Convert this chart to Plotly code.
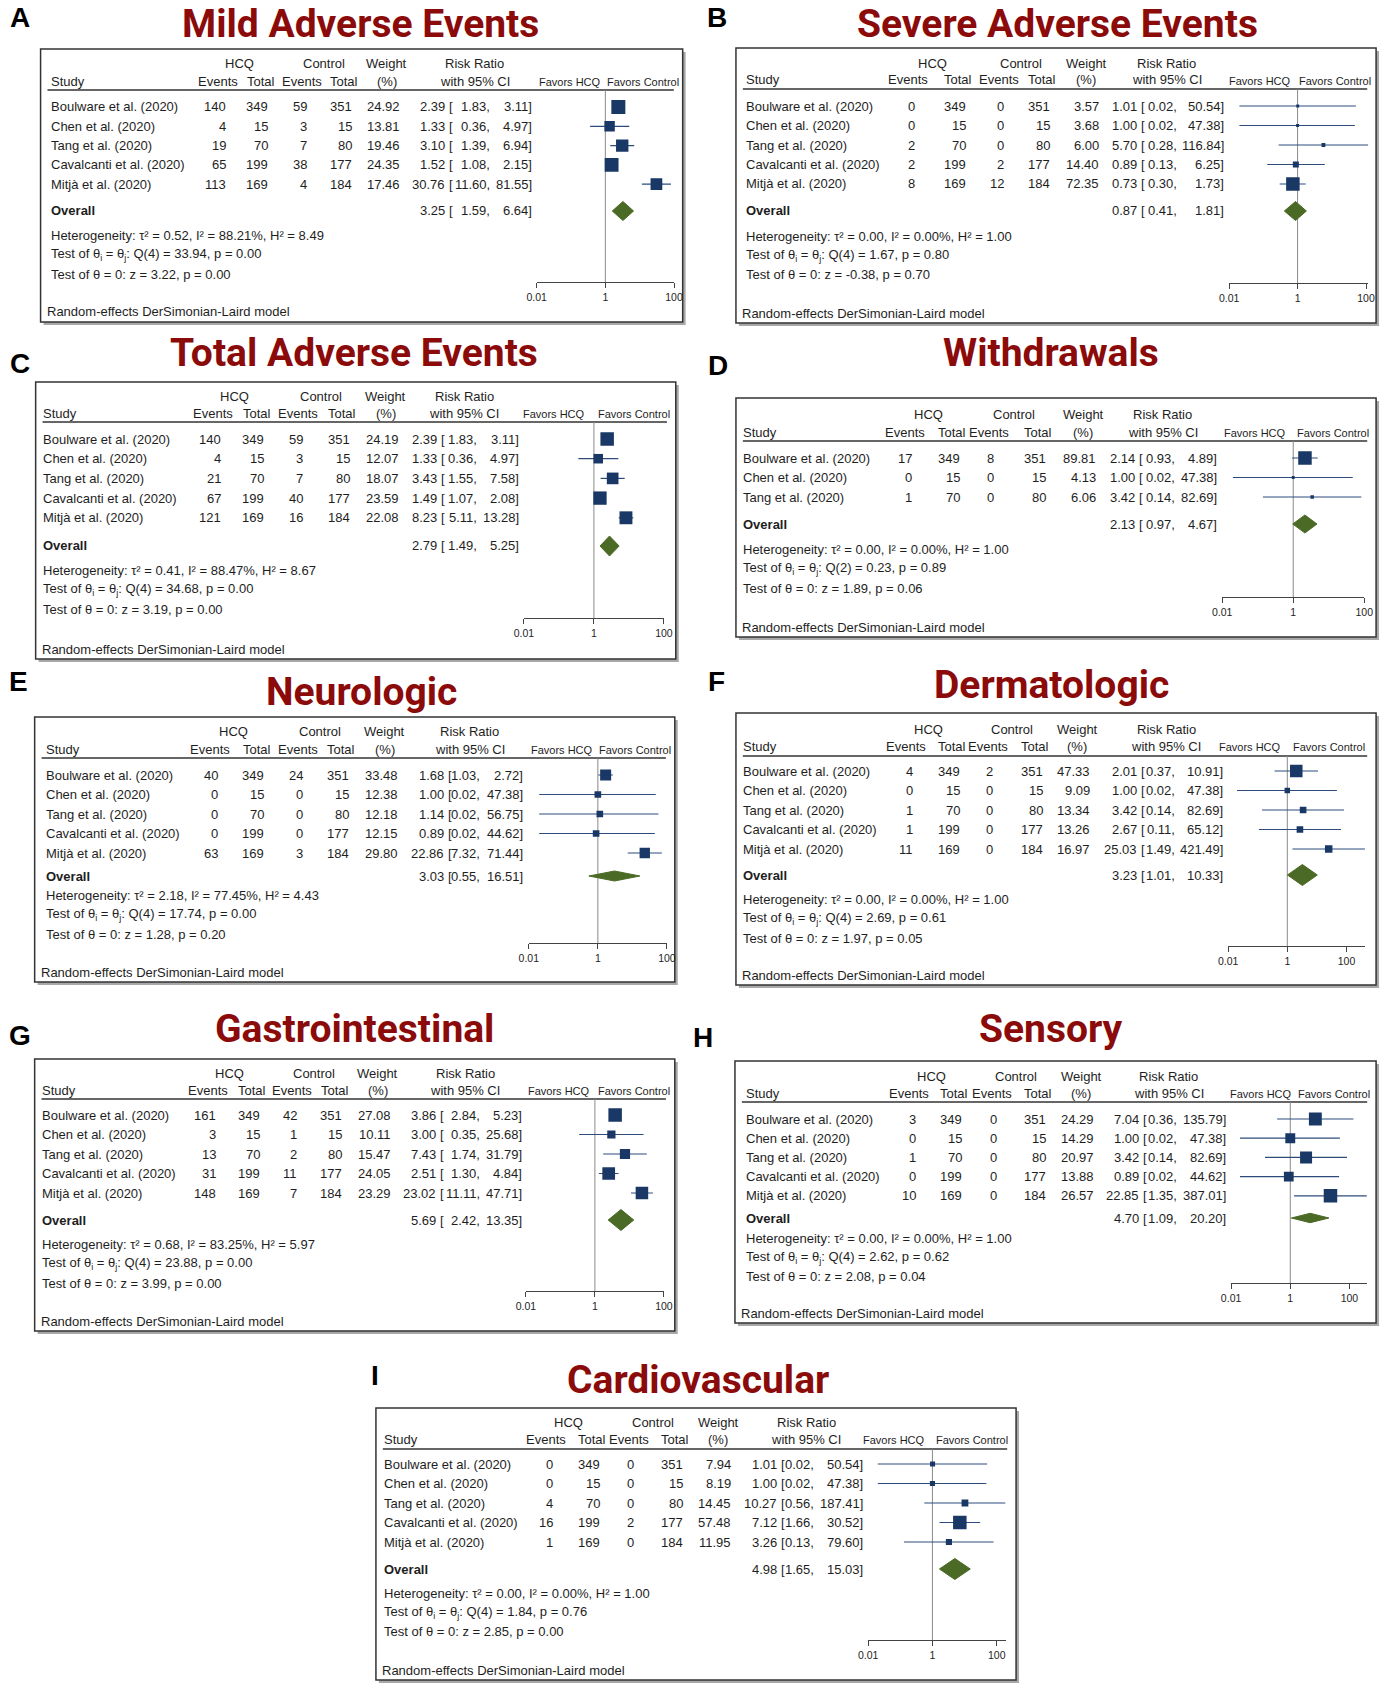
import math
import plotly.graph_objects as go

W, H = 1391, 1686
FONT = "Liberation Sans"
TFONT = "Roboto"

studies5 = ["Boulware et al. (2020)", "Chen et al. (2020)", "Tang et al. (2020)",
            "Cavalcanti et al. (2020)", "Mitjà et al. (2020)"]
studies3 = studies5[:3]

# ---------------- data ----------------
# A Mild adverse events
mild_hcq_ev = [140, 4, 19, 65, 113]
mild_hcq_n = [349, 15, 70, 199, 169]
mild_ctl_ev = [59, 3, 7, 38, 4]
mild_ctl_n = [351, 15, 80, 177, 184]
mild_wt = [24.92, 13.81, 19.46, 24.35, 17.46]
mild_rr = [2.39, 1.33, 3.10, 1.52, 30.76]
mild_lo = [1.83, 0.36, 1.39, 1.08, 11.60]
mild_hi = [3.11, 4.97, 6.94, 2.15, 81.55]
mild_overall = [3.25, 1.59, 6.64]
mild_stats = [0.52, 88.21, 8.49, 33.94, 0.00, 3.22, 0.00]

# B Severe adverse events
sev_hcq_ev = [0, 0, 2, 2, 8]
sev_hcq_n = [349, 15, 70, 199, 169]
sev_ctl_ev = [0, 0, 0, 2, 12]
sev_ctl_n = [351, 15, 80, 177, 184]
sev_wt = [3.57, 3.68, 6.00, 14.40, 72.35]
sev_rr = [1.01, 1.00, 5.70, 0.89, 0.73]
sev_lo = [0.02, 0.02, 0.28, 0.13, 0.30]
sev_hi = [50.54, 47.38, 116.84, 6.25, 1.73]
sev_overall = [0.87, 0.41, 1.81]
sev_stats = [0.00, 0.00, 1.00, 1.67, 0.80, -0.38, 0.70]

# C Total adverse events
tot_hcq_ev = [140, 4, 21, 67, 121]
tot_hcq_n = [349, 15, 70, 199, 169]
tot_ctl_ev = [59, 3, 7, 40, 16]
tot_ctl_n = [351, 15, 80, 177, 184]
tot_wt = [24.19, 12.07, 18.07, 23.59, 22.08]
tot_rr = [2.39, 1.33, 3.43, 1.49, 8.23]
tot_lo = [1.83, 0.36, 1.55, 1.07, 5.11]
tot_hi = [3.11, 4.97, 7.58, 2.08, 13.28]
tot_overall = [2.79, 1.49, 5.25]
tot_stats = [0.41, 88.47, 8.67, 34.68, 0.00, 3.19, 0.00]

# D Withdrawals
wd_hcq_ev = [17, 0, 1]
wd_hcq_n = [349, 15, 70]
wd_ctl_ev = [8, 0, 0]
wd_ctl_n = [351, 15, 80]
wd_wt = [89.81, 4.13, 6.06]
wd_rr = [2.14, 1.00, 3.42]
wd_lo = [0.93, 0.02, 0.14]
wd_hi = [4.89, 47.38, 82.69]
wd_overall = [2.13, 0.97, 4.67]
wd_stats = [0.00, 0.00, 1.00, 0.23, 0.89, 1.89, 0.06]

# E Neurologic
neu_hcq_ev = [40, 0, 0, 0, 63]
neu_hcq_n = [349, 15, 70, 199, 169]
neu_ctl_ev = [24, 0, 0, 0, 3]
neu_ctl_n = [351, 15, 80, 177, 184]
neu_wt = [33.48, 12.38, 12.18, 12.15, 29.80]
neu_rr = [1.68, 1.00, 1.14, 0.89, 22.86]
neu_lo = [1.03, 0.02, 0.02, 0.02, 7.32]
neu_hi = [2.72, 47.38, 56.75, 44.62, 71.44]
neu_overall = [3.03, 0.55, 16.51]
neu_stats = [2.18, 77.45, 4.43, 17.74, 0.00, 1.28, 0.20]

# F Dermatologic
der_hcq_ev = [4, 0, 1, 1, 11]
der_hcq_n = [349, 15, 70, 199, 169]
der_ctl_ev = [2, 0, 0, 0, 0]
der_ctl_n = [351, 15, 80, 177, 184]
der_wt = [47.33, 9.09, 13.34, 13.26, 16.97]
der_rr = [2.01, 1.00, 3.42, 2.67, 25.03]
der_lo = [0.37, 0.02, 0.14, 0.11, 1.49]
der_hi = [10.91, 47.38, 82.69, 65.12, 421.49]
der_overall = [3.23, 1.01, 10.33]
der_stats = [0.00, 0.00, 1.00, 2.69, 0.61, 1.97, 0.05]

# G Gastrointestinal
gi_hcq_ev = [161, 3, 13, 31, 148]
gi_hcq_n = [349, 15, 70, 199, 169]
gi_ctl_ev = [42, 1, 2, 11, 7]
gi_ctl_n = [351, 15, 80, 177, 184]
gi_wt = [27.08, 10.11, 15.47, 24.05, 23.29]
gi_rr = [3.86, 3.00, 7.43, 2.51, 23.02]
gi_lo = [2.84, 0.35, 1.74, 1.30, 11.11]
gi_hi = [5.23, 25.68, 31.79, 4.84, 47.71]
gi_overall = [5.69, 2.42, 13.35]
gi_stats = [0.68, 83.25, 5.97, 23.88, 0.00, 3.99, 0.00]

# H Sensory
sen_hcq_ev = [3, 0, 1, 0, 10]
sen_hcq_n = [349, 15, 70, 199, 169]
sen_ctl_ev = [0, 0, 0, 0, 0]
sen_ctl_n = [351, 15, 80, 177, 184]
sen_wt = [24.29, 14.29, 20.97, 13.88, 26.57]
sen_rr = [7.04, 1.00, 3.42, 0.89, 22.85]
sen_lo = [0.36, 0.02, 0.14, 0.02, 1.35]
sen_hi = [135.79, 47.38, 82.69, 44.62, 387.01]
sen_overall = [4.70, 1.09, 20.20]
sen_stats = [0.00, 0.00, 1.00, 2.62, 0.62, 2.08, 0.04]

# I Cardiovascular
cv_hcq_ev = [0, 0, 4, 16, 1]
cv_hcq_n = [349, 15, 70, 199, 169]
cv_ctl_ev = [0, 0, 0, 2, 0]
cv_ctl_n = [351, 15, 80, 177, 184]
cv_wt = [7.94, 8.19, 14.45, 57.48, 11.95]
cv_rr = [1.01, 1.00, 10.27, 7.12, 3.26]
cv_lo = [0.02, 0.02, 0.56, 1.66, 0.13]
cv_hi = [50.54, 47.38, 187.41, 30.52, 79.60]
cv_overall = [4.98, 1.65, 15.03]
cv_stats = [0.00, 0.00, 1.00, 1.84, 0.76, 2.85, 0.00]

titles = ["Mild Adverse Events", "Severe Adverse Events", "Total Adverse Events", "Withdrawals",
          "Neurologic", "Dermatologic", "Gastrointestinal", "Sensory", "Cardiovascular"]
letters = ["A", "B", "C", "D", "E", "F", "G", "H", "I"]

datasets = [
    (studies5, mild_hcq_ev, mild_hcq_n, mild_ctl_ev, mild_ctl_n, mild_wt, mild_rr, mild_lo, mild_hi, mild_overall, mild_stats),
    (studies5, sev_hcq_ev, sev_hcq_n, sev_ctl_ev, sev_ctl_n, sev_wt, sev_rr, sev_lo, sev_hi, sev_overall, sev_stats),
    (studies5, tot_hcq_ev, tot_hcq_n, tot_ctl_ev, tot_ctl_n, tot_wt, tot_rr, tot_lo, tot_hi, tot_overall, tot_stats),
    (studies3, wd_hcq_ev, wd_hcq_n, wd_ctl_ev, wd_ctl_n, wd_wt, wd_rr, wd_lo, wd_hi, wd_overall, wd_stats),
    (studies5, neu_hcq_ev, neu_hcq_n, neu_ctl_ev, neu_ctl_n, neu_wt, neu_rr, neu_lo, neu_hi, neu_overall, neu_stats),
    (studies5, der_hcq_ev, der_hcq_n, der_ctl_ev, der_ctl_n, der_wt, der_rr, der_lo, der_hi, der_overall, der_stats),
    (studies5, gi_hcq_ev, gi_hcq_n, gi_ctl_ev, gi_ctl_n, gi_wt, gi_rr, gi_lo, gi_hi, gi_overall, gi_stats),
    (studies5, sen_hcq_ev, sen_hcq_n, sen_ctl_ev, sen_ctl_n, sen_wt, sen_rr, sen_lo, sen_hi, sen_overall, sen_stats),
    (studies5, cv_hcq_ev, cv_hcq_n, cv_ctl_ev, cv_ctl_n, cv_wt, cv_rr, cv_lo, cv_hi, cv_overall, cv_stats),
]

# ---------------- layout (pixel positions) ----------------
layouts = [
    dict(box=(31, 49, 682, 322), letter=(10, 17), title=(355, 20), hcq=64, study=81, line=90, row0=107, sp=19.3,
         overall=211, het=235, tsp=19.5, axis=282, rand=312,
         cols=(41, 220, 263, 302, 348, 396, 442, 488, 530, 568, 642), ax0=534, dec=34.8, sq=14, dh=9.5),
    dict(box=(736, 48, 1385, 323), letter=(717, 17), title=(1062, 20), hcq=63, study=80, line=89, row0=106, sp=19.5,
         overall=211, het=236, tsp=19.5, axis=283, rand=313,
         cols=(745, 919, 970, 1009, 1055, 1105, 1144, 1184, 1232, 1267, 1343), ax0=1236, dec=34.7, sq=13.5, dh=9.5),
    dict(box=(26, 382, 675, 659), letter=(10, 363), title=(349, 349), hcq=396, study=413, line=422, row0=439, sp=19.7,
         overall=546, het=570, tsp=19.5, axis=618, rand=649,
         cols=(32, 215, 259, 298, 346, 395, 434, 474, 517, 552, 633), ax0=521, dec=35.5, sq=13.5, dh=10),
    dict(box=(736, 398, 1385, 637), letter=(718, 365), title=(1055, 349), hcq=414, study=432, line=441, row0=458, sp=19.5,
         overall=524, het=549, tsp=19.5, axis=597, rand=627,
         cols=(742, 916, 964, 999, 1051, 1102, 1142, 1182, 1225, 1262, 1341), ax0=1229, dec=36, sq=13.5, dh=9),
    dict(box=(25, 717, 674, 982), letter=(9, 682), title=(356, 688), hcq=732, study=749, line=758, row0=775, sp=19.5,
         overall=876, het=895, tsp=19.5, axis=943, rand=972,
         cols=(35, 212, 259, 298, 345, 394, 441, 478, 521, 560, 634), ax0=526, dec=35, sq=11, dh=5),
    dict(box=(736, 713, 1385, 985), letter=(716, 682), title=(1056, 681), hcq=729, study=746, line=756, row0=771, sp=19.5,
         overall=875, het=899, tsp=19.5, axis=946, rand=975,
         cols=(742, 917, 964, 998, 1048, 1096, 1144, 1182, 1231, 1257, 1337), ax0=1235, dec=30, sq=12.5, dh=10.5),
    dict(box=(25, 1059, 674, 1331), letter=(10, 1035), title=(349, 1025), hcq=1073, study=1090, line=1099, row0=1115, sp=19.5,
         overall=1220, het=1244, tsp=19.5, axis=1291, rand=1321,
         cols=(31, 210, 254, 292, 338, 387, 433, 478, 520, 557, 633), ax0=523, dec=35, sq=13.5, dh=10.5),
    dict(box=(735, 1061, 1385, 1323), letter=(703, 1037), title=(1055, 1025), hcq=1076, study=1093, line=1102, row0=1119, sp=19.2,
         overall=1218, het=1238, tsp=19.3, axis=1283, rand=1313,
         cols=(745, 920, 966, 1002, 1051, 1100, 1146, 1184, 1234, 1268, 1342), ax0=1238, dec=30, sq=13.5, dh=4.7),
    dict(box=(371, 1408, 1020, 1680), letter=(370, 1375), title=(698, 1376), hcq=1422, study=1439, line=1449, row0=1464, sp=19.5,
         overall=1569, het=1593, tsp=19.3, axis=1640, rand=1670,
         cols=(378, 552, 599, 634, 683, 732, 779, 816, 866, 896, 975), ax0=870, dec=32.6, sq=13.5, dh=10.5),
]

TXT = "#1e1e1e"
NAVY = "#1a3866"
GREEN = "#4b6a26"
RED = "#8b0a0a"
FS = 13


def px2x(px):
    return px / W


def px2y(py):
    return 1 - py / H


fig = go.Figure()
annotations = []
shapes = []


def txt(x, y, s, anchor="left", size=FS, color=TXT, bold=False, family=FONT):
    annotations.append(dict(x=px2x(x), y=px2y(y), xref="paper", yref="paper", text=s, showarrow=False,
                            xanchor=anchor, yanchor="middle", borderpad=0,
                            font=dict(family=family, size=size, color=color,
                                      weight="bold" if bold else "normal")))


for k, (ds, L) in enumerate(zip(datasets, layouts)):
    names, he, hn, ce, cn, wt, rr, lo, hi, ov, st = ds
    n = len(names)
    ax = "" if k == 0 else str(k + 1)
    bx0, by0, bx1, by1 = L["box"]
    c = L["cols"]

    # box with drop shadow
    shapes.append(dict(type="rect", xref="paper", yref="paper", layer="below",
                       x0=px2x(bx0 + 3), x1=px2x(bx1 + 3), y0=px2y(by0 + 3), y1=px2y(by1 + 3),
                       fillcolor="#a8a8a8", line=dict(width=0)))
    shapes.append(dict(type="rect", xref="paper", yref="paper", layer="below",
                       x0=px2x(bx0), x1=px2x(bx1), y0=px2y(by0), y1=px2y(by1),
                       fillcolor="white", line=dict(color="#333333", width=1.5)))
    shapes.append(dict(type="line", xref="paper", yref="paper", layer="below",
                       x0=px2x(bx0 + 7), x1=px2x(bx1 - 9), y0=px2y(L["line"]), y1=px2y(L["line"]),
                       line=dict(color="#333333", width=1.5)))

    # letter and title
    txt(L["letter"][0], L["letter"][1], letters[k], anchor="center", size=28, color="#000000", bold=True,
        family="Liberation Sans")
    txt(L["title"][0], L["title"][1] + 4, titles[k], anchor="center", size=39, color=RED, bold=True,
        family=TFONT)

    # headers
    txt(c[0], L["study"], "Study", "left")
    txt((c[1] + c[2]) / 2 - 9, L["hcq"], "HCQ", "center")
    txt((c[3] + c[4]) / 2 - 7, L["hcq"], "Control", "center")
    txt(c[1] - 9, L["study"], "Events", "center")
    txt(c[2] - 9, L["study"], "Total", "center")
    txt(c[3] - 6, L["study"], "Events", "center")
    txt(c[4] - 9, L["study"], "Total", "center")
    txt(c[5] - 14, L["hcq"], "Weight", "center")
    txt(c[5] - 14, L["study"], "(%)", "center")
    rrc = (c[6] - 30 + c[8]) / 2
    txt(rrc, L["hcq"], "Risk Ratio", "center")
    txt(rrc, L["study"], "with 95% CI", "center")
    txt(c[9], L["study"] + 1, "Favors HCQ", "center", size=11)
    txt(c[10], L["study"] + 1, "Favors Control", "center", size=11)

    ys = [L["row0"] + i * L["sp"] for i in range(n)]
    for i in range(n):
        y = ys[i]
        txt(c[0], y, names[i], "left")
        txt(c[1], y, str(he[i]), "right")
        txt(c[2], y, str(hn[i]), "right")
        txt(c[3], y, str(ce[i]), "right")
        txt(c[4], y, str(cn[i]), "right")
        txt(c[5], y, f"{wt[i]:.2f}", "right")
        txt(c[6], y, f"{rr[i]:.2f}", "right")
        txt(c[6] + 2, y, "[", "left")
        txt(c[7], y, f"{lo[i]:.2f},", "right")
        txt(c[8], y, f"{hi[i]:.2f}]", "right")

    yo = L["overall"]
    txt(c[0], yo, "Overall", "left", bold=True)
    txt(c[6], yo, f"{ov[0]:.2f}", "right")
    txt(c[6] + 2, yo, "[", "left")
    txt(c[7], yo, f"{ov[1]:.2f},", "right")
    txt(c[8], yo, f"{ov[2]:.2f}]", "right")

    tau2, i2, h2, q, pq, z, pz = st
    txt(c[0], L["het"], f"Heterogeneity: τ² = {tau2:.2f}, I² = {i2:.2f}%, H² = {h2:.2f}", "left")
    txt(c[0], L["het"] + L["tsp"], f"Test of θ<sub>i</sub> = θ<sub>j</sub>: Q({n - 1}) = {q:.2f}, p = {pq:.2f}", "left")
    txt(c[0], L["het"] + 2 * L["tsp"], f"Test of θ = 0: z = {z:.2f}, p = {pz:.2f}", "left")
    txt(bx0 + 5, L["rand"], "Random-effects DerSimonian-Laird model", "left")

    # axes
    xmin = min(0.01, min(lo))
    xmax = max(100, max(hi))
    d0 = L["ax0"] + (math.log10(xmin) + 2) * L["dec"]
    d1 = L["ax0"] + (math.log10(xmax) + 2) * L["dec"]
    fig.layout["xaxis" + ax] = dict(type="log", range=[math.log10(xmin), math.log10(xmax)],
                                    domain=[px2x(d0), px2x(d1)], anchor="free", position=px2y(L["axis"]),
                                    showline=True, linecolor="#444444", linewidth=1, ticks="outside",
                                    ticklen=5, tickcolor="#444444", tickvals=[0.01, 1, 100],
                                    ticktext=["0.01", "1", "100"], showgrid=False, zeroline=False,
                                    tickfont=dict(family=FONT, size=10.5, color=TXT), fixedrange=True)
    fig.layout["yaxis" + ax] = dict(domain=[px2y(by1), px2y(by0)], range=[by1, by0], visible=False,
                                    showgrid=False, zeroline=False, fixedrange=True)
    xa, ya = "x" + ax, "y" + ax

    # reference line at 1
    fig.add_trace(go.Scatter(x=[1, 1], y=[L["line"], L["axis"]], mode="lines", xaxis=xa, yaxis=ya,
                             line=dict(color="#8a8a8a", width=1), hoverinfo="skip", showlegend=False))
    # CIs
    cx, cy = [], []
    for i in range(n):
        cx += [lo[i], hi[i], None]
        cy += [ys[i], ys[i], None]
    fig.add_trace(go.Scatter(x=cx, y=cy, mode="lines", xaxis=xa, yaxis=ya,
                             line=dict(color="#2d4c7c", width=1.2), hoverinfo="skip", showlegend=False))
    wmax = max(wt)
    fig.add_trace(go.Scatter(x=rr, y=ys, mode="markers", xaxis=xa, yaxis=ya,
                             marker=dict(symbol="square", color=NAVY, opacity=1,
                                         size=[L["sq"] * math.sqrt(w / wmax) for w in wt],
                                         line=dict(width=0)),
                             hoverinfo="skip", showlegend=False))
    # overall diamond
    dh = L["dh"]
    fig.add_trace(go.Scatter(x=[ov[1], ov[0], ov[2], ov[0], ov[1]], y=[yo, yo - dh, yo, yo + dh, yo],
                             mode="lines", fill="toself", fillcolor=GREEN, xaxis=xa, yaxis=ya,
                             line=dict(color=GREEN, width=1), hoverinfo="skip", showlegend=False))

fig.update_layout(width=W, height=H, margin=dict(l=0, r=0, t=0, b=0), paper_bgcolor="white",
                  plot_bgcolor="rgba(0,0,0,0)", annotations=annotations, shapes=shapes, showlegend=False,
                  font=dict(family=FONT))
fig.write_html("out.html", config={"displayModeBar": False},
               post_script="document.body.style.margin='0px';")
